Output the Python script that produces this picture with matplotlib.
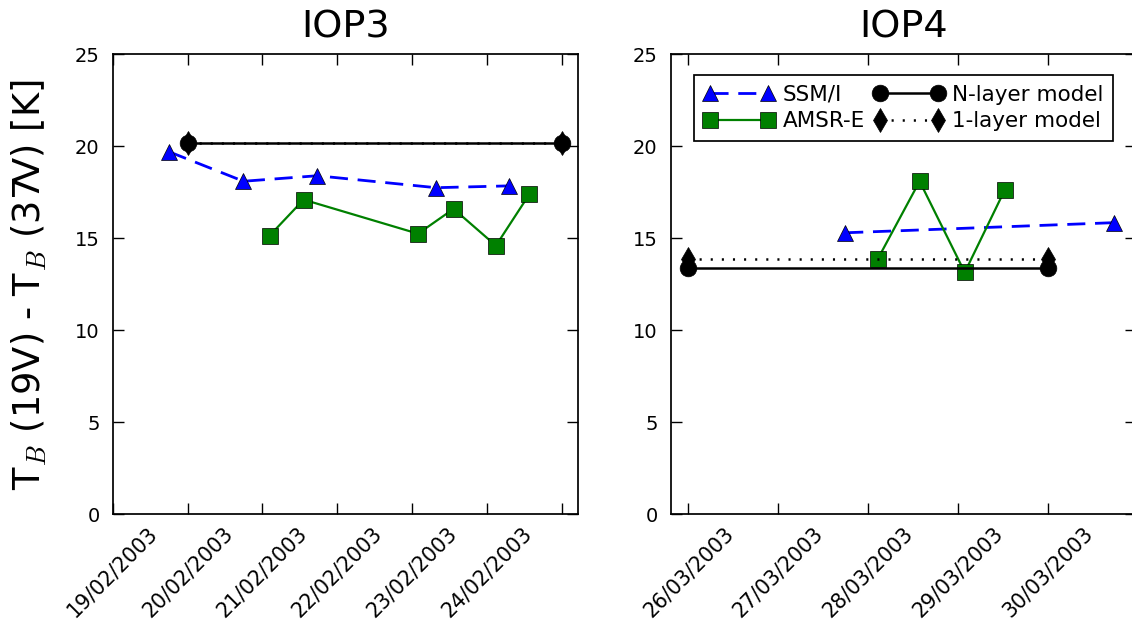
import matplotlib
matplotlib.use("Agg")
import matplotlib.pyplot as plt
import pandas as pd

plt.rcParams["font.family"] = ["DejaVu Sans"]
plt.rcParams["mathtext.fontset"] = "cm"
plt.rcParams["lines.scale_dashes"] = False

# ---------------- data ----------------
# IOP3
iop3_ssmi_time = ["2003-02-18 18:07", "2003-02-19 17:56", "2003-02-20 17:35",
                  "2003-02-22 07:41", "2003-02-23 07:13"]
iop3_ssmi_val = [19.7, 18.1, 18.4, 17.75, 17.85]
iop3_amsre_time = ["2003-02-20 02:20", "2003-02-20 13:13", "2003-02-22 01:55",
                   "2003-02-22 13:19", "2003-02-23 02:53", "2003-02-23 13:38"]
iop3_amsre_val = [15.15, 17.1, 15.25, 16.6, 14.6, 17.4]
iop3_model_time = ["2003-02-19 00:00", "2003-02-24 00:00"]
iop3_nlayer_val = [20.2, 20.2]
iop3_1layer_val = [20.2, 20.2]
iop3_ticks = ["2003-02-18", "2003-02-19", "2003-02-20", "2003-02-21",
              "2003-02-22", "2003-02-23", "2003-02-24"]
iop3_ticklabels = ["19/02/2003", "20/02/2003", "21/02/2003", "22/02/2003",
                   "23/02/2003", "24/02/2003", ""]
iop3_xlim = ["2003-02-18 00:00", "2003-02-24 05:18"]

# IOP4
iop4_ssmi_time = ["2003-03-27 17:53", "2003-03-30 17:40"]
iop4_ssmi_val = [15.3, 15.85]
iop4_amsre_time = ["2003-03-28 02:34", "2003-03-28 13:45", "2003-03-29 01:49",
                   "2003-03-29 12:33"]
iop4_amsre_val = [13.87, 18.1, 13.15, 17.65]
iop4_model_time = ["2003-03-26 00:00", "2003-03-30 00:00"]
iop4_nlayer_val = [13.4, 13.4]
iop4_1layer_val = [13.85, 13.85]
iop4_ticks = ["2003-03-26", "2003-03-27", "2003-03-28", "2003-03-29", "2003-03-30"]
iop4_ticklabels = ["26/03/2003", "27/03/2003", "28/03/2003", "29/03/2003", "30/03/2003"]
iop4_xlim = ["2003-03-25 19:16", "2003-03-30 23:38"]

yticks = [0, 5, 10, 15, 20, 25]
titles = ["IOP3", "IOP4"]
series_names = ["SSM/I", "AMSR-E", "N-layer model", "1-layer model"]


def dt(lst):
    return pd.to_datetime(lst).to_pydatetime()


fig = plt.figure(figsize=(11.32, 6.30), dpi=100)
fig.patch.set_facecolor("white")

W = 465.6 / 1132
H = 460.0 / 630
B = (630 - 514.3) / 630
ax1 = fig.add_axes([112.7 / 1132, B, W, H])
ax2 = fig.add_axes([670.7 / 1132, B, W, H])

panels = [
    (ax1, iop3_ssmi_time, iop3_ssmi_val, iop3_amsre_time, iop3_amsre_val,
     iop3_model_time, iop3_nlayer_val, iop3_1layer_val, iop3_ticks, iop3_ticklabels, iop3_xlim),
    (ax2, iop4_ssmi_time, iop4_ssmi_val, iop4_amsre_time, iop4_amsre_val,
     iop4_model_time, iop4_nlayer_val, iop4_1layer_val, iop4_ticks, iop4_ticklabels, iop4_xlim),
]

ms = 12
for i, (ax, st, sv, at, av, mt, nv, ov, tk, tl, xl) in enumerate(panels):
    ax.plot(dt(st), sv, color="#0000ff", linestyle=(0, (13, 7)), linewidth=2.0,
            marker="^", markersize=ms, markerfacecolor="#0000ff",
            markeredgecolor="black", markeredgewidth=0.5, label=series_names[0])
    ax.plot(dt(at), av, color="#008000", linestyle="-", linewidth=1.6,
            marker="s", markersize=ms, markerfacecolor="#008000",
            markeredgecolor="black", markeredgewidth=0.5, label=series_names[1])
    ax.plot(dt(mt), nv, color="black", linestyle="-", linewidth=1.8,
            marker="o", markersize=ms, markerfacecolor="black",
            markeredgecolor="black", markeredgewidth=0.5, label=series_names[2])
    ax.plot(dt(mt), ov, color="black", linestyle=(0, (1.5, 6.5)), linewidth=1.8,
            marker="d", markersize=ms, markerfacecolor="black",
            markeredgecolor="black", markeredgewidth=0.5, label=series_names[3])

    ax.set_ylim(0, 25)
    ax.set_yticks(yticks)
    ax.set_xlim(dt(xl))
    ax.set_xticks(dt(tk))
    ax.set_xticklabels(tl, rotation=45, ha="center")
    ax.tick_params(direction="in", length=8, width=1, top=True, right=True)
    ax.tick_params(axis="x", pad=6.5, labelsize=14.8)
    ax.tick_params(axis="y", pad=9.5, labelsize=14)
    for sp in ax.spines.values():
        sp.set_linewidth(1.25)
    ax.set_title(titles[i], fontsize=27.5, pad=12)

ax1.set_ylabel(r"T$_B$ (19V) - T$_B$ (37V) [K]", fontsize=26.5)
ax1.yaxis.set_label_coords(-0.136, 0.5)

leg = ax2.legend(loc="upper center", bbox_to_anchor=(0.5, 1 - 20.7 / 460),
                 borderaxespad=0, ncol=2, numpoints=2, fontsize=15.5,
                 handlelength=3.3, handletextpad=0.35, columnspacing=0.4,
                 borderpad=0.45, labelspacing=0.3, fancybox=False)
leg.get_frame().set_edgecolor("black")
leg.get_frame().set_linewidth(1.25)
leg.get_frame().set_alpha(1)

fig.savefig("out.png", dpi=100, facecolor="white")
